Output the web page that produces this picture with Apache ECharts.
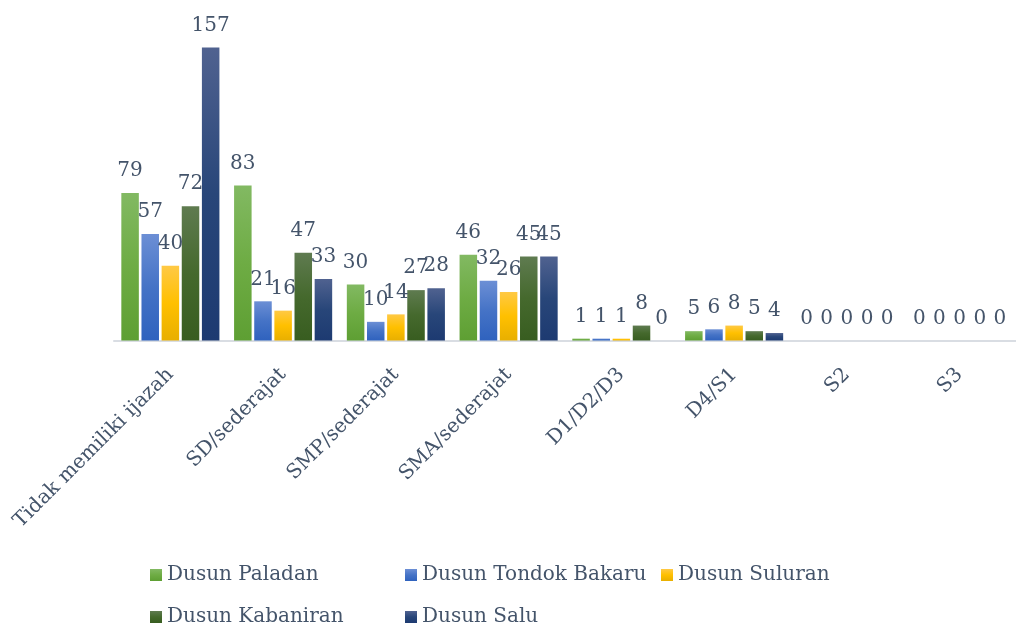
<!DOCTYPE html>
<html>
<head>
<meta charset="utf-8">
<script src="https://cdn.jsdelivr.net/npm/echarts@6/dist/echarts.min.js"></script>
<style>
  html, body { margin: 0; padding: 0; background: #ffffff; }
  #chart { width: 1016px; height: 626px; }
</style>
</head>
<body>
<div id="chart"></div>
<script>
// Education level categories
const categories = ['Tidak memiliki ijazah', 'SD/sederajat', 'SMP/sederajat', 'SMA/sederajat', 'D1/D2/D3', 'D4/S1', 'S2', 'S3'];

// Residents per hamlet for each education level
const paladan      = [79, 83, 30, 46, 1, 5, 0, 0];
const tondokBakaru = [57, 21, 10, 32, 1, 6, 0, 0];
const suluran      = [40, 16, 14, 26, 1, 8, 0, 0];
const kabaniran    = [72, 47, 27, 45, 8, 5, 0, 0];
const salu         = [157, 33, 28, 45, 0, 4, 0, 0];

const seriesNames = ['Dusun Paladan', 'Dusun Tondok Bakaru', 'Dusun Suluran', 'Dusun Kabaniran', 'Dusun Salu'];
const seriesData = [paladan, tondokBakaru, suluran, kabaniran, salu];

// Vertical gradient fills: light top, base middle, dark bottom
const fills = [
  ['#82B962', '#6EAC44', '#5E9F33'],
  ['#6C8FD5', '#4573C6', '#2F62BE'],
  ['#FFC945', '#FFC000', '#E8AF00'],
  ['#5F7B50', '#45692D', '#385D20'],
  ['#506290', '#284679', '#1D3A71']
];

const textColor = '#44546A';
const fontFamily = '"DejaVu Serif", "Liberation Serif", serif';

function grad(c) {
  return new echarts.graphic.LinearGradient(0, 0, 0, 1, [
    { offset: 0, color: c[0] },
    { offset: 0.5, color: c[1] },
    { offset: 1, color: c[2] }
  ]);
}

const series = seriesNames.map((name, i) => ({
  name: name,
  type: 'bar',
  data: seriesData[i],
  barGap: '15%',
  barCategoryGap: '13%',
  itemStyle: { color: grad(fills[i]) },
  label: {
    show: true,
    position: 'top',
    distance: 12,
    color: textColor,
    fontFamily: fontFamily,
    fontSize: 20
  },
  emphasis: { disabled: true }
}));

// One legend entry per slot: two rows, three columns
const legendSlots = [
  { name: 'Dusun Paladan', left: 145, top: 560 },
  { name: 'Dusun Tondok Bakaru', left: 400, top: 560 },
  { name: 'Dusun Suluran', left: 656, top: 560 },
  { name: 'Dusun Kabaniran', left: 145, top: 602 },
  { name: 'Dusun Salu', left: 400, top: 602 }
];

const legends = legendSlots.map(s => ({
  data: [s.name],
  left: s.left,
  top: s.top,
  icon: 'rect',
  itemWidth: 12,
  itemHeight: 12,
  selectedMode: false,
  textStyle: { color: textColor, fontFamily: fontFamily, fontSize: 20 }
}));

const chart = echarts.init(document.getElementById('chart'), null, { renderer: 'canvas' });
chart.setOption({
  animation: false,
  backgroundColor: '#ffffff',
  grid: { left: 114, right: -6, top: 41.9, bottom: 285.5, containLabel: false },
  legend: legends,
  xAxis: {
    type: 'category',
    data: categories,
    axisLine: { show: true, lineStyle: { color: '#D9DDE3', width: 2 } },
    axisTick: { show: false },
    axisLabel: {
      rotate: 45,
      interval: 0,
      margin: 31,
      color: textColor,
      fontFamily: fontFamily,
      fontSize: 20
    }
  },
  yAxis: {
    type: 'value',
    min: 0,
    max: 160,
    show: false,
    splitLine: { show: false }
  },
  series: series
});
</script>
</body>
</html>
